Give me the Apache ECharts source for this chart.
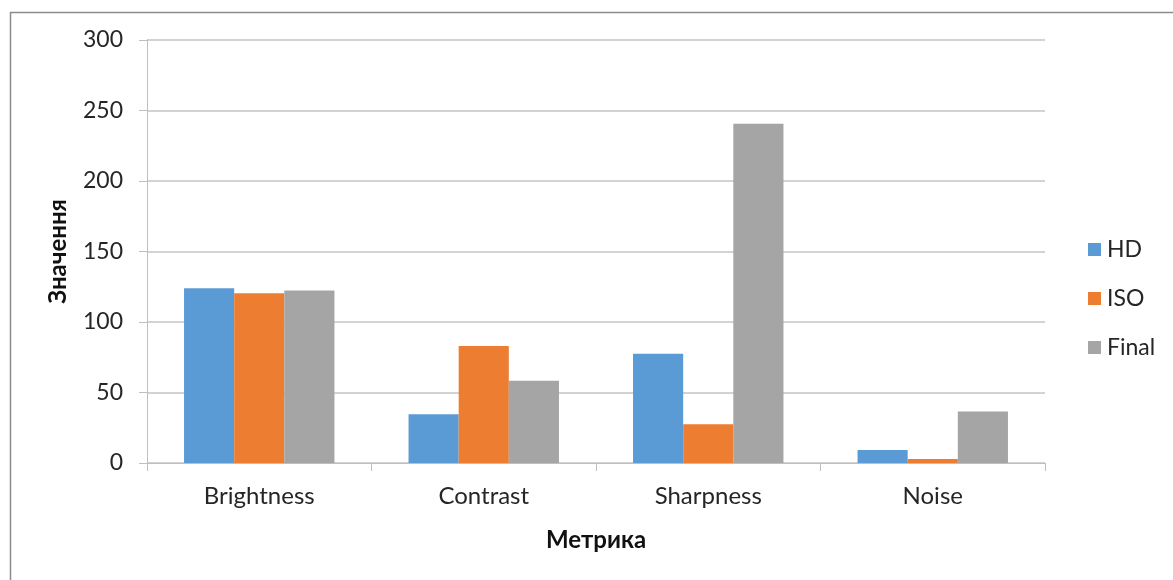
<!DOCTYPE html>
<html>
<head>
<meta charset="utf-8">
<script src="https://cdn.jsdelivr.net/npm/echarts@6/dist/echarts.min.js"></script>
<style>
  html, body { margin: 0; padding: 0; background: #ffffff; }
  #chart { width: 1173px; height: 580px; }
</style>
</head>
<body>
<div id="chart"></div>
<script>
// Image quality metrics per processing variant
const categories = ['Brightness', 'Contrast', 'Sharpness', 'Noise'];
const seriesNames = ['HD', 'ISO', 'Final'];
const hdValues = [124, 34.6, 77.5, 9.2];
const isoValues = [120.4, 83, 27.5, 2.8];
const finalValues = [122.3, 58.3, 240.6, 36.5];
const yTicks = [0, 50, 100, 150, 200, 250, 300];

const colors = ['#5B9BD5', '#ED7D31', '#A5A5A5'];
const font = 'Lato, "Open Sans", sans-serif';

const chart = echarts.init(document.getElementById('chart'), null, { renderer: 'canvas' });

const values = [hdValues, isoValues, finalValues];

chart.setOption({
  animation: false,
  backgroundColor: '#ffffff',
  color: colors,
  graphic: [{
    type: 'rect',
    left: 8, top: 10,
    shape: { width: 1200, height: 620 },
    style: { fill: 'none', stroke: '#8c8c8c', lineWidth: 1.5 },
    silent: true,
    z: -1
  }],
  grid: { left: 147, right: 128, top: 40, bottom: 117, containLabel: false },
  legend: {
    orient: 'vertical',
    left: 1088,
    top: 238,
    padding: 0,
    itemWidth: 13,
    itemHeight: 13,
    itemGap: 26,
    icon: 'rect',
    data: seriesNames,
    textStyle: { fontFamily: font, fontSize: 23, color: '#262626', lineHeight: 23, padding: [0, 0, 0, 1] }
  },
  xAxis: {
    type: 'category',
    data: categories,
    name: 'Метрика',
    nameLocation: 'middle',
    nameGap: 65,
    nameTextStyle: { fontFamily: font, fontSize: 24, fontWeight: 'bold', color: '#111111' },
    axisLine: { lineStyle: { color: '#bfbfbf', width: 1 } },
    axisTick: { show: true, length: 8, lineStyle: { color: '#bfbfbf' } },
    axisLabel: { fontFamily: font, fontSize: 24, color: '#262626', margin: 21 }
  },
  yAxis: {
    type: 'value',
    min: yTicks[0],
    max: yTicks[yTicks.length - 1],
    interval: yTicks[1] - yTicks[0],
    name: 'Значення',
    nameLocation: 'middle',
    nameGap: 77,
    nameRotate: 90,
    nameTextStyle: { fontFamily: font, fontSize: 24, fontWeight: 'bold', color: '#111111' },
    axisLine: { show: true, lineStyle: { color: '#bfbfbf', width: 1 } },
    axisTick: { show: true, length: 8, lineStyle: { color: '#bfbfbf' } },
    splitLine: { show: true, lineStyle: { color: '#c4c4c4', width: 1.5 } },
    axisLabel: { fontFamily: font, fontSize: 23, color: '#262626', margin: 24 }
  },
  series: seriesNames.map((name, i) => ({
    name: name,
    type: 'bar',
    data: values[i],
    barGap: '0%',
    barCategoryGap: '33%',
    itemStyle: { color: colors[i] }
  }))
});
</script>
</body>
</html>
